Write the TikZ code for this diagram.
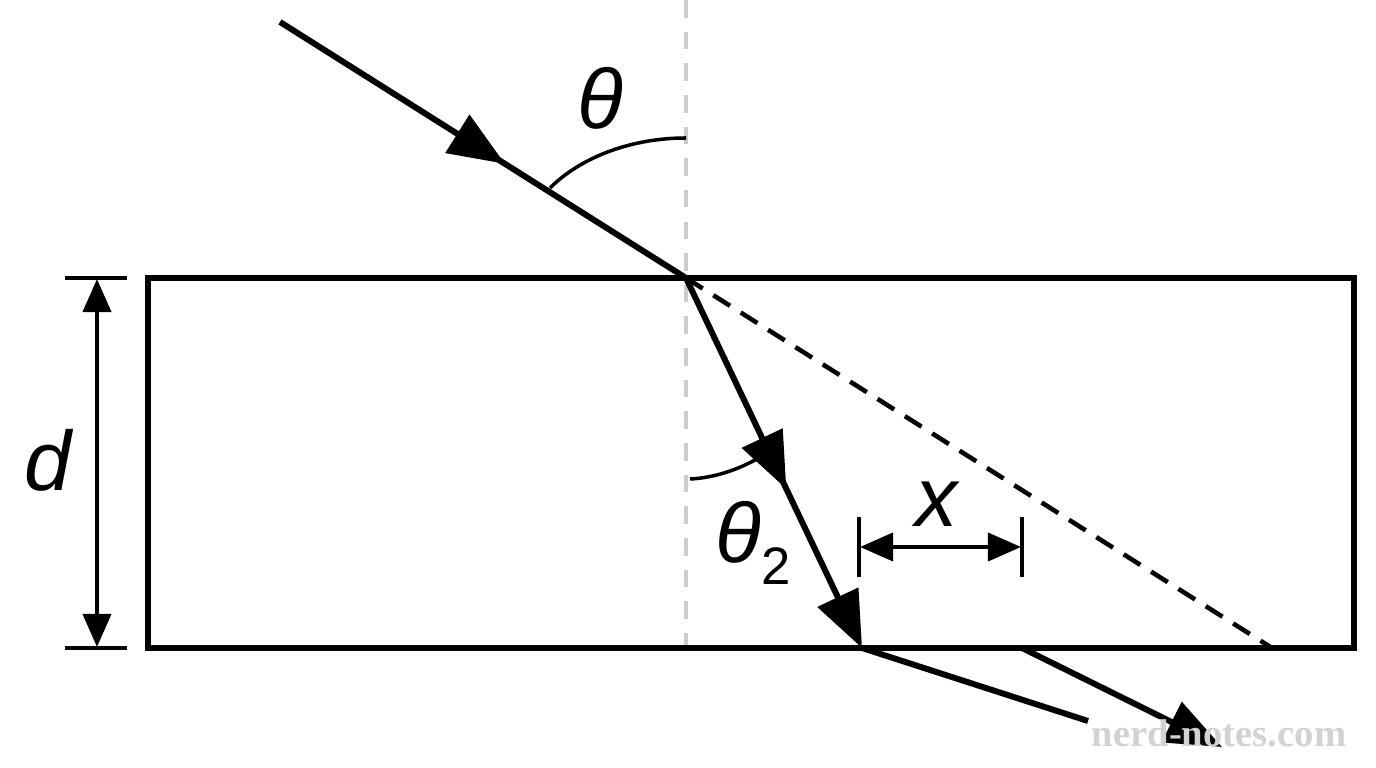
\documentclass[tikz,border=0pt]{standalone}
\usepackage{fontspec}
\setmainfont{Liberation Sans}
\newfontfamily\wmfont{Liberation Serif}
\usetikzlibrary{arrows.meta,decorations.markings}
\tikzset{
  ray/.style={line width=1.7pt},
  bigtip/.style={-{Triangle[length=16pt,width=12.5pt]}},
  midtip/.style={postaction={decorate},decoration={markings,mark=at position #1 with {\arrow{Triangle[length=16pt,width=12.5pt]}}}},
  dimline/.style={line width=1pt},
  dimtip/.style={{Triangle[length=9.4pt,width=8pt]}-{Triangle[length=9.4pt,width=8pt]}},
  lbl/.style={font=\fontsize{24}{24}\selectfont\itshape, inner sep=0pt},
}
\begin{document}
\begin{tikzpicture}[x=0.01cm,y=-0.01cm]
		\useasboundingbox (0,0) rectangle (1376,768);
		\coordinate (src) at (280,22);
		\coordinate (hit) at (686,278);
		\coordinate (exit) at (862,648);
		\coordinate (virt) at (1272,648);
		\coordinate (out1) at (1088,721);
		\coordinate (shift) at (1022,648);
		\coordinate (out2) at (1222,747);
		\coordinate (normtop) at (686,0);
		\coordinate (normbot) at (686,660);

		\draw[gray!40, line width=1.4pt, dash pattern=on 5pt off 4pt] (normtop) -- (normbot);
		\draw[line width=1.7pt] (148,278) rectangle (1354,648);
		\draw[line width=1.3pt, dash pattern=on 5.6pt off 3.6pt] (hit) -- (virt);

		\draw[line width=1pt] (686,138) .. controls (630,138) and (580,158) .. (550,188);
		\draw[line width=1pt] (690,479) .. controls (715,478) and (745,468) .. (768,452);

		\path[draw, ray, midtip=0.554] (src) -- (hit);
		\path[draw, ray, bigtip, midtip=0.57] (hit) -- (exit);
		\path[draw, ray] (exit) -- (out1);
		\path[draw, ray, bigtip] (shift) -- (out2);

		\draw[dimline] (65,278) -- (127,278);
		\draw[dimline] (65,648) -- (127,648);
		\coordinate (dtop) at (97,279);
		\coordinate (dbot) at (97,647);
		\path[draw, dimline, dimtip] (dtop) -- (dbot);

		\draw[dimline] (859,517) -- (859,577);
		\draw[dimline] (1022,517) -- (1022,577);
		\coordinate (xl) at (860,547);
		\coordinate (xr) at (1021,547);
		\path[draw, dimline, dimtip] (xl) -- (xr);

		\node[lbl] (theta) at (600,98) {θ};
		\node[lbl] (thetatwo) at (753,543) {θ\raisebox{-6.5pt}{\upshape\fontsize{15}{15}\selectfont 2}};
		\node[lbl] (dlabel) at (48,460) {d};
		\node[lbl] (xlabel) at (937,504) {x};
		\node[font=\wmfont\bfseries\fontsize{11}{11}\selectfont, text=gray!35, inner sep=0pt] (wm) at (1219,733) {nerd-notes.com};
\end{tikzpicture}
\end{document}
